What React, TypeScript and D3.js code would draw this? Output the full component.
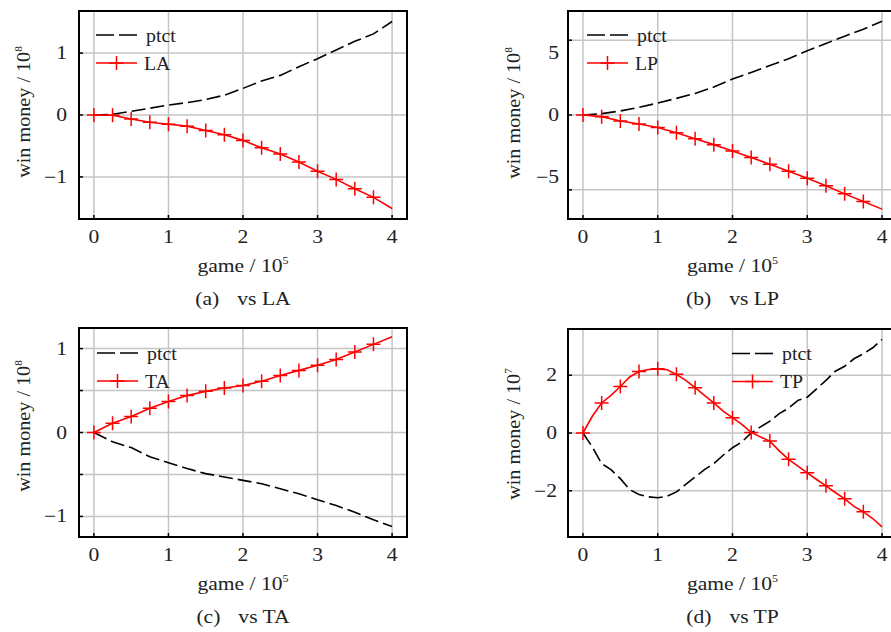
import React from 'react';
import * as d3 from 'd3';

// ---------- data ----------
const xTickValues = [0, 1, 2, 3, 4];
const gamesQuarter = [0, 0.25, 0.5, 0.75, 1, 1.25, 1.5, 1.75, 2, 2.25, 2.5, 2.75, 3, 3.25, 3.5, 3.75, 4];
const gamesEighth = [0, 0.125, 0.25, 0.375, 0.5, 0.625, 0.75, 0.875, 1, 1.125, 1.25, 1.375, 1.5, 1.625, 1.75, 1.875, 2,
  2.125, 2.25, 2.375, 2.5, 2.625, 2.75, 2.875, 3, 3.125, 3.25, 3.375, 3.5, 3.625, 3.75, 3.875, 4];
const markerGames = [0, 0.25, 0.5, 0.75, 1, 1.25, 1.5, 1.75, 2, 2.25, 2.5, 2.75, 3, 3.25, 3.5, 3.75];

// (a) vs LA, units 1e8
const ptctVsLA = [0, 0.01, 0.06, 0.11, 0.16, 0.2, 0.25, 0.32, 0.43, 0.55, 0.64, 0.78, 0.91, 1.05, 1.19, 1.31, 1.51];
const seriesLA = [0, -0.005, -0.064, -0.118, -0.15, -0.18, -0.25, -0.32, -0.41, -0.53, -0.63, -0.76, -0.91, -1.04, -1.19, -1.33, -1.51];
// (b) vs LP, units 1e8
const ptctVsLP = [0, 0.09, 0.27, 0.51, 0.8, 1.11, 1.44, 1.87, 2.4, 2.84, 3.31, 3.76, 4.29, 4.78, 5.27, 5.73, 6.27];
const seriesLP = [0, -0.11, -0.4, -0.6, -0.84, -1.18, -1.58, -1.98, -2.4, -2.84, -3.29, -3.76, -4.22, -4.73, -5.27, -5.78, -6.29];
// (c) vs TA, units 1e8
const ptctVsTA = [0, -0.11, -0.18, -0.29, -0.36, -0.43, -0.49, -0.53, -0.57, -0.61, -0.67, -0.73, -0.8, -0.87, -0.95, -1.04, -1.12];
const seriesTA = [0, 0.11, 0.19, 0.29, 0.37, 0.44, 0.49, 0.53, 0.56, 0.61, 0.68, 0.74, 0.8, 0.87, 0.96, 1.05, 1.14];
// (d) vs TP, units 1e7
const ptctVsTP = [0, -0.48, -1.06, -1.27, -1.58, -1.96, -2.13, -2.21, -2.24, -2.19, -2.04, -1.78, -1.52, -1.27, -1.06, -0.77, -0.51,
  -0.31, 0, 0.21, 0.41, 0.67, 0.86, 1.13, 1.24, 1.53, 1.82, 2.14, 2.31, 2.57, 2.74, 2.95, 3.24];
const seriesTP = [0, 0.58, 1.04, 1.3, 1.61, 1.94, 2.13, 2.2, 2.22, 2.19, 2.03, 1.82, 1.57, 1.3, 1.04, 0.76, 0.53,
  0.3, 0.02, -0.14, -0.28, -0.62, -0.91, -1.15, -1.38, -1.61, -1.83, -2.06, -2.28, -2.54, -2.73, -2.96, -3.25];

const yGridA = [-1, 0, 1];
const yGridB = [-5, 0, 5];
const yGridC = [-1, -0.5, 0, 0.5, 1];
const yLabelsC = [-1, 0, 1];
const yGridD = [-2, 0, 2];

// ---------- styling ----------
const FONT = "'Liberation Serif', 'Times New Roman', serif";
const SX = 1.2;
const TXT = '#222';
const RED = '#ff0000';

const fmt = (v: number) => (v < 0 ? '\u2212' + Math.abs(v) : String(v));

function T({ x, y, anchor = 'middle', size = 18, rotate = false, sx = SX, children }: any) {
  const tr = rotate
    ? `translate(${x},${y}) rotate(-90) scale(${sx},1)`
    : `translate(${x},${y}) scale(${sx},1)`;
  return (
    <text transform={tr} textAnchor={anchor} fontFamily={FONT} fontSize={size} fill={TXT}>
      {children}
    </text>
  );
}

function Plus({ cx, cy, h = 7 }: any) {
  return (
    <path d={`M${cx - h},${cy}H${cx + h}M${cx},${cy - h}V${cy + h}`} stroke={RED} strokeWidth={1.5} fill="none" />
  );
}

function Panel({ cfg }: any) {
  const { left, right, top, bottom, ymax, games, ptct, opp, oppName, yGrid, yLabels, exp, title,
    legendX, legendY, yLabelX, yLabelY, tickLabelX, labelShift, id } = cfg;
  const x = d3.scaleLinear().domain([-0.2, 4.2]).range([left, right]);
  const y = d3.scaleLinear().domain([-ymax, ymax]).range([bottom, top]);
  const line = d3.line<number>().x((_, i) => x(games[i])).y((d) => y(d));
  const cx = (left + right) / 2;
  const midX = x(2);
  const clipId = 'clip-' + id;
  const markerIdx = markerGames.map((g: number) => games.indexOf(g));
  return (
    <g>
      <defs>
        <clipPath id={clipId}>
          <rect x={left} y={top} width={right - left} height={bottom - top} />
        </clipPath>
      </defs>
      {/* grid */}
      {xTickValues.map((v) => (
        <line key={'gx' + v} x1={x(v)} x2={x(v)} y1={top} y2={bottom} stroke="#c4c4c4" strokeWidth={1.5} />
      ))}
      {yGrid.map((v: number) => (
        <line key={'gy' + v} x1={left} x2={right} y1={y(v)} y2={y(v)} stroke="#c4c4c4" strokeWidth={1.5} />
      ))}
      {/* ticks */}
      {xTickValues.map((v) => (
        <line key={'tx' + v} x1={x(v)} x2={x(v)} y1={bottom} y2={bottom - 4} stroke="#000" strokeWidth={1.5} />
      ))}
      {yGrid.map((v: number) => (
        <line key={'ty' + v} x1={left} x2={left + 4} y1={y(v)} y2={y(v)} stroke="#000" strokeWidth={1.5} />
      ))}
      {/* curves */}
      <g clipPath={`url(#${clipId})`}>
        <path d={line(ptct) || ''} fill="none" stroke="#000" strokeWidth={1.6} strokeDasharray="14,5" />
        <path d={line(opp) || ''} fill="none" stroke={RED} strokeWidth={1.6} />
        {markerIdx.map((i: number) => (
          <Plus key={'m' + i} cx={x(games[i])} cy={y(opp[i])} />
        ))}
      </g>
      {/* frame */}
      <rect x={left} y={top} width={right - left} height={bottom - top} fill="none" stroke="#000" strokeWidth={2} />
      {/* tick labels */}
      {xTickValues.map((v) => (
        <T key={'lx' + v} x={x(v)} y={bottom + 24}>{String(v)}</T>
      ))}
      {yLabels.map((v: number) => (
        <T key={'ly' + v} x={tickLabelX} y={y(v) + 6 + Math.sign(v) * labelShift} anchor="end">{fmt(v)}</T>
      ))}
      {/* axis titles */}
      <T x={midX} y={bottom + 53}>
        game / 10<tspan dy={-8} fontSize={10}>5</tspan>
      </T>
      <T x={yLabelX} y={yLabelY} rotate sx={1.12}>
        win money / 10<tspan dy={-8} fontSize={10}>{String(exp)}</tspan>
      </T>
      <T x={midX} y={bottom + 86}>
        {title[0]}<tspan dx={15}>{title[1]}</tspan>
      </T>
      {/* legend */}
      <line x1={legendX} x2={legendX + 41} y1={legendY} y2={legendY} stroke="#000" strokeWidth={1.6} strokeDasharray="18,5" />
      <T x={legendX + 50} y={legendY + 6.5} anchor="start" sx={1.1}>ptct</T>
      <line x1={legendX} x2={legendX + 41} y1={legendY + 28} y2={legendY + 28} stroke={RED} strokeWidth={1.6} />
      <Plus cx={legendX + 20.5} cy={legendY + 28} />
      <T x={legendX + 48} y={legendY + 34.5} anchor="start" sx={1.1}>{oppName}</T>
    </g>
  );
}

export default function App() {
  const panels = [
    { id: 'a', left: 79, right: 407, top: 11, bottom: 219, ymax: 1.68, games: gamesQuarter, ptct: ptctVsLA, opp: seriesLA,
      oppName: 'LA', yGrid: yGridA, yLabels: yGridA, exp: 8, title: ['(a)', 'vs LA'], legendX: 96, legendY: 35,
      yLabelX: 30, yLabelY: 112, tickLabelX: 67, labelShift: 0 },
    { id: 'b', left: 568, right: 897, top: 11, bottom: 219, ymax: 6.95, games: gamesQuarter, ptct: ptctVsLP, opp: seriesLP,
      oppName: 'LP', yGrid: yGridB, yLabels: yGridB, exp: 8, title: ['(b)', 'vs LP'], legendX: 587, legendY: 35,
      yLabelX: 520, yLabelY: 113, tickLabelX: 559, labelShift: 12.8 },
    { id: 'c', left: 79, right: 407, top: 328, bottom: 537, ymax: 1.245, games: gamesQuarter, ptct: ptctVsTA, opp: seriesTA,
      oppName: 'TA', yGrid: yGridC, yLabels: yLabelsC, exp: 8, title: ['(c)', 'vs TA'], legendX: 97, legendY: 353,
      yLabelX: 30, yLabelY: 426, tickLabelX: 67, labelShift: 0 },
    { id: 'd', left: 568, right: 897, top: 329, bottom: 537, ymax: 3.6, games: gamesEighth, ptct: ptctVsTP, opp: seriesTP,
      oppName: 'TP', yGrid: yGridD, yLabels: yGridD, exp: 7, title: ['(d)', 'vs TP'], legendX: 732, legendY: 353.5,
      yLabelX: 520, yLabelY: 434, tickLabelX: 557, labelShift: 0 },
  ];
  return (
    <svg width={891} height={632} style={{ position: 'absolute', left: 0, top: 0, background: '#fff' }}>
      <rect x={0} y={0} width={891} height={632} fill="#fff" />
      {panels.map((p) => (
        <Panel key={p.id} cfg={p} />
      ))}
    </svg>
  );
}
